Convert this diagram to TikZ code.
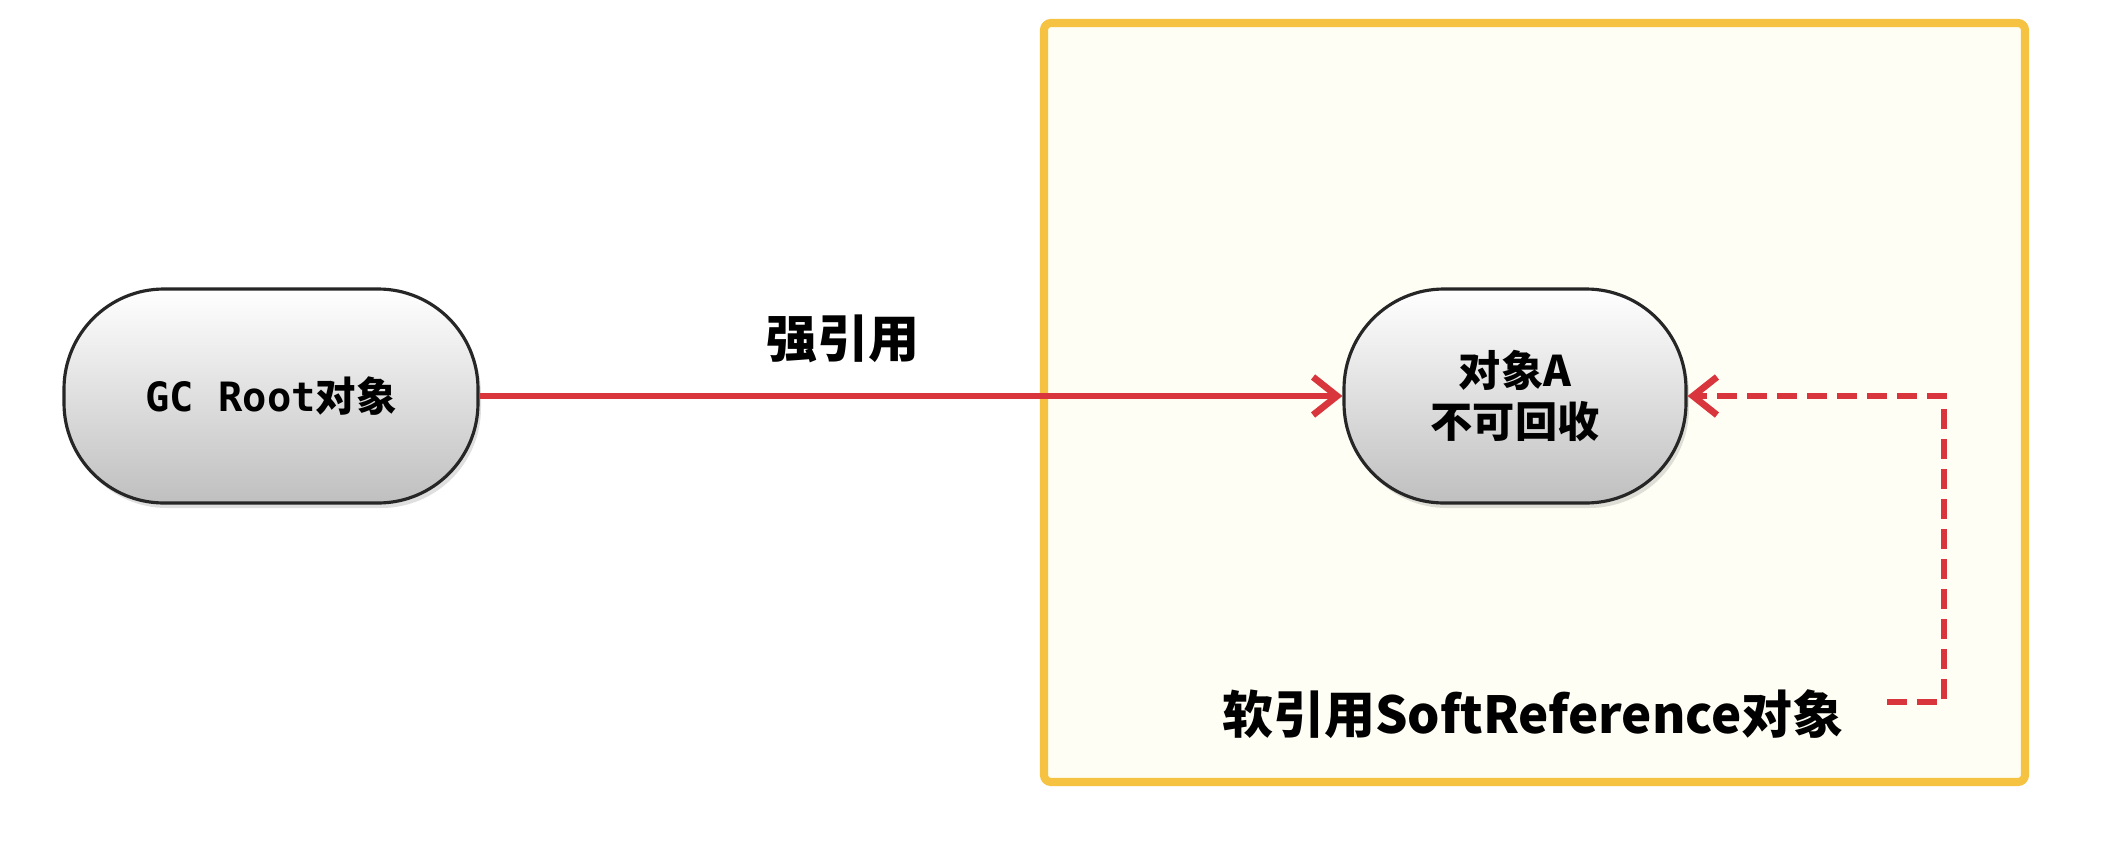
\documentclass[tikz,border=0pt]{standalone}
\usepackage{fontspec}
\setmainfont{Noto Sans CJK SC}
\newfontfamily\monof{DejaVu Sans Mono}
\usetikzlibrary{arrows.meta,shadows}
\definecolor{boxyellow}{HTML}{F5C242}
\definecolor{boxfill}{HTML}{FFFEF4}
\definecolor{refred}{HTML}{D8363C}
\tikzset{
  objnode/.style={draw=black!85, line width=0.9pt, rounded corners=1.0cm,
    minimum height=2.14cm, top color=white, bottom color=black!25,
    drop shadow={shadow xshift=0.03cm, shadow yshift=-0.05cm, opacity=0.25},
    align=center, font=\bfseries},
  lbl/.style={font=\bfseries},
  strongref/.style={draw=refred, line width=1.9pt,
    -{Straight Barb[length=0.24cm,width=0.38cm,line width=1.9pt]}},
  softref/.style={draw=refred, line width=1.9pt, dash pattern=on 0.2cm off 0.1cm,
    -{Straight Barb[length=0.24cm,width=0.38cm,line width=1.9pt]}},
}
\begin{document}
\begin{tikzpicture}
\useasboundingbox (0,0) rectangle (21.24,8.56);
\fill[white] (0,0) rectangle (21.24,8.56);
\draw[boxyellow, fill=boxfill, line width=2.3pt, rounded corners=2pt] (10.44,0.74) rectangle (20.25,8.33);
\node[objnode, minimum width=4.14cm, font=\bfseries\fontsize{11.5}{14}\selectfont] (gc) at (2.71,4.60) {{\monof\bfseries GC Root}对象};
\node[objnode, minimum width=3.42cm, font=\bfseries\fontsize{12}{14.5}\selectfont] (a) at (15.15,4.60) {对象A\\不可回收};
\node[lbl, font=\bfseries\fontsize{14.5}{17}\selectfont] (strong) at (8.43,5.17) {强引用};
\node[lbl, font=\bfseries\fontsize{14.5}{17}\selectfont] (soft) at (15.33,1.42) {软引用SoftReference对象};
\coordinate (ds) at (18.87,1.54);
\coordinate (dc) at (19.44,1.54);
\draw[strongref] (gc.east) -- (a.west);
\draw[softref] (ds) -- (dc) -- (dc |- a.east) -- (a.east);
\end{tikzpicture}
\end{document}
